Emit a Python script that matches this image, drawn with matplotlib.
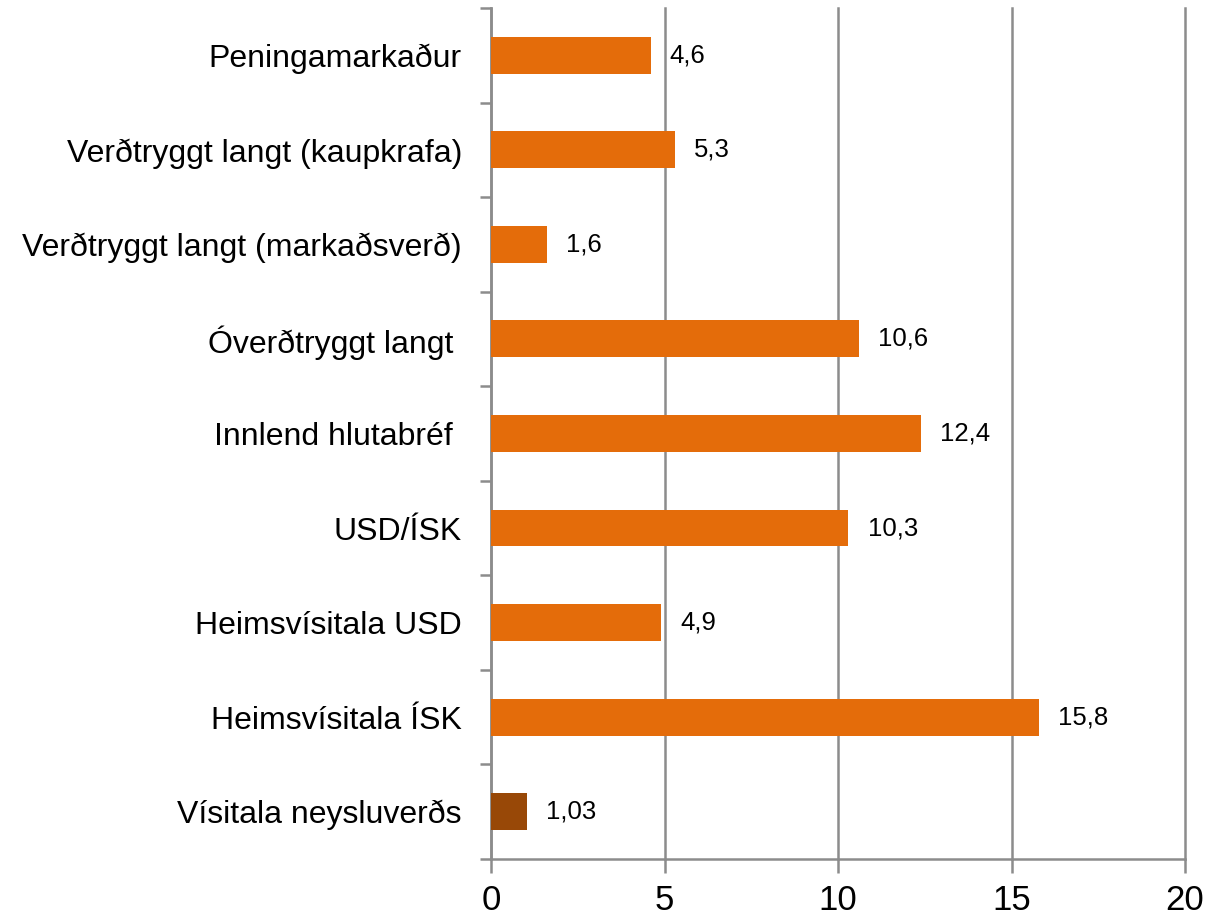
import numpy as np
import matplotlib.pyplot as plt
from matplotlib.ticker import FixedLocator

plt.rcParams['font.family'] = ['Liberation Sans', 'DejaVu Sans']

categories = ['Peningamarkaður', 'Verðtryggt langt (kaupkrafa)', 'Verðtryggt langt (markaðsverð)',
              'Óverðtryggt langt ', 'Innlend hlutabréf ', 'USD/ÍSK', 'Heimsvísitala USD',
              'Heimsvísitala ÍSK', 'Vísitala neysluverðs']
values = [4.6, 5.3, 1.6, 10.6, 12.4, 10.3, 4.9, 15.8, 1.03]
value_labels = ['4,6', '5,3', '1,6', '10,6', '12,4', '10,3', '4,9', '15,8', '1,03']
colors = ['#E46C0A'] * 8 + ['#984807']

fig = plt.figure(figsize=(12.2, 9.18), dpi=100)
ax = fig.add_axes([0.4025, 0.0643, 0.5688, 0.927])

n = len(categories)
y = np.arange(n)
ax.barh(y, values, height=0.39, color=colors, zorder=3)
for yi, v, lab in zip(y, values, value_labels):
    ax.text(v + 0.55, yi, lab, va='center', ha='left', fontsize=18.5)

ax.set_ylim(n - 0.5, -0.5)
ax.set_xlim(0, 20)
ax.set_xticks([0, 5, 10, 15, 20])
ax.set_xticklabels(['0', '5', '10', '15', '20'], fontsize=25)
ax.grid(axis='x', color='#8c8c8c', linewidth=1.8, zorder=0)
for gl in ax.get_xgridlines():
    gl.set_clip_on(False)

ax.yaxis.set_major_locator(FixedLocator(np.arange(-0.5, n, 1.0)))
ax.yaxis.set_minor_locator(FixedLocator(y))
ax.set_yticklabels([], minor=False)
ax.set_yticklabels(categories, minor=True, fontsize=23)
ax.tick_params(axis='y', which='major', length=8, width=1.8, color='#8c8c8c')
ax.tick_params(axis='y', which='minor', length=0, pad=21)
ax.tick_params(axis='x', length=10, width=1.8, color='#8c8c8c', pad=8)

for s in ['top', 'right']:
    ax.spines[s].set_visible(False)
for s in ['left', 'bottom']:
    ax.spines[s].set_color('#8c8c8c')
    ax.spines[s].set_linewidth(1.8)

fig.savefig('out.png', dpi=100)
